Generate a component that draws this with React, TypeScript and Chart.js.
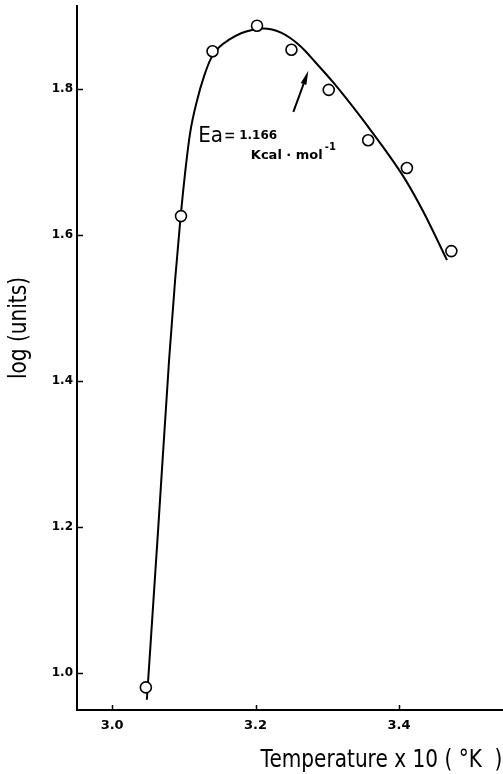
import React, { useEffect, useRef } from "react";
import { Chart, registerables } from "chart.js";

Chart.register(...registerables);

// Axis ticks
const X_TICKS = [3.0, 3.2, 3.4];
const Y_TICKS = [1.0, 1.2, 1.4, 1.6, 1.8];

// Measured points: temperature (x10) vs log(units)
const TEMP_OBS = [3.047, 3.096, 3.140, 3.202, 3.250, 3.302, 3.357, 3.411, 3.473];
const LOG_OBS = [0.980, 1.626, 1.852, 1.887, 1.854, 1.799, 1.730, 1.692, 1.578];

// Hand-fitted curve through the measurements
const TEMP_FIT = [
  3.0484, 3.0641, 3.0794, 3.0878, 3.0948, 3.1017, 3.1087, 3.1185, 3.1282, 3.1380,
  3.1491, 3.1631, 3.1798, 3.1951, 3.2105, 3.2230, 3.2355, 3.2467, 3.2578, 3.2690,
  3.2815, 3.3080, 3.3317, 3.3568, 3.3819, 3.4084, 3.4334, 3.4669,
];
const LOG_FIT = [
  0.9630, 1.1959, 1.4288, 1.5384, 1.6178, 1.6849, 1.7397, 1.7849, 1.8178, 1.8425,
  1.8575, 1.8678, 1.8767, 1.8812, 1.8832, 1.8818, 1.8774, 1.8712, 1.8630, 1.8527,
  1.8390, 1.8096, 1.7808, 1.7486, 1.7151, 1.6767, 1.6329, 1.5657,
];

// Annotation: arrow and activation-energy label (data units)
const ARROW_FROM = [3.2527, 1.7689];
const ARROW_TO = [3.2736, 1.8251];
const LABEL_AT = [3.1199, 1.7278];

const X_RANGE = [2.951, 3.545];
const Y_RANGE = [0.949, 1.914];

const PLAIN = "'DejaVu Sans', sans-serif";
const BOLD = "'DejaVu Sans', sans-serif";

// Draw text squeezed horizontally (narrow lettering)
function narrowText(ctx: any, text: string, x: number, y: number, size: number, squeeze: number, align: "left" | "center") {
  ctx.save();
  ctx.font = `${size}px ${PLAIN}`;
  ctx.textAlign = "left";
  const w = ctx.measureText(text).width * squeeze;
  const startX = align === "center" ? x - w / 2 : x;
  ctx.translate(startX, y);
  ctx.scale(squeeze, 1);
  ctx.fillText(text, 0, 0);
  ctx.restore();
  return w;
}

const decorations = {
  id: "decorations",
  afterDatasetsDraw(chart: any) {
    const { ctx, scales, chartArea } = chart;
    const xs = scales.x;
    const ys = scales.y;
    ctx.save();
    ctx.strokeStyle = "#000";
    ctx.fillStyle = "#000";

    // inward tick marks
    ctx.lineWidth = 1.5;
    ctx.beginPath();
    X_TICKS.forEach((v) => {
      const px = Math.round(xs.getPixelForValue(v)) + 0.5;
      ctx.moveTo(px, chartArea.bottom);
      ctx.lineTo(px, chartArea.bottom - 5);
    });
    Y_TICKS.forEach((v) => {
      const py = Math.round(ys.getPixelForValue(v)) + 0.5;
      ctx.moveTo(chartArea.left, py);
      ctx.lineTo(chartArea.left + 6, py);
    });
    ctx.stroke();

    // arrow
    const x0 = xs.getPixelForValue(ARROW_FROM[0]);
    const y0 = ys.getPixelForValue(ARROW_FROM[1]);
    const x1 = xs.getPixelForValue(ARROW_TO[0]);
    const y1 = ys.getPixelForValue(ARROW_TO[1]);
    const ang = Math.atan2(y1 - y0, x1 - x0);
    const headLen = 14;
    const headHalf = 3;
    const bx = x1 - headLen * Math.cos(ang);
    const by = y1 - headLen * Math.sin(ang);
    ctx.lineWidth = 2;
    ctx.beginPath();
    ctx.moveTo(x0, y0);
    ctx.lineTo(bx, by);
    ctx.stroke();
    ctx.beginPath();
    ctx.moveTo(x1, y1);
    ctx.lineTo(bx + headHalf * Math.sin(ang), by - headHalf * Math.cos(ang));
    ctx.lineTo(bx - headHalf * Math.sin(ang), by + headHalf * Math.cos(ang));
    ctx.closePath();
    ctx.fill();

    // Ea label
    const lx = xs.getPixelForValue(LABEL_AT[0]);
    const ly = ys.getPixelForValue(LABEL_AT[1]);
    ctx.textBaseline = "alphabetic";
    ctx.textAlign = "left";
    const eaW = narrowText(ctx, "Ea", lx, ly, 21, 0.95, "left");
    narrowText(ctx, "=", lx + eaW + 1, ly - 1, 17, 0.8, "left");
    ctx.font = `bold 12px ${BOLD}`;
    ctx.fillText("1.166", lx + 41, ly - 2.4);
    ctx.font = `bold 13px ${BOLD}`;
    const kx = lx + 52.7;
    ctx.fillText("Kcal · mol", kx, ly + 17.3);
    const kw = ctx.measureText("Kcal · mol").width;
    ctx.font = `bold 10px ${BOLD}`;
    ctx.fillText("-1", kx + kw + 2, ly + 7.8);

    // axis titles
    narrowText(ctx, "Temperature x 10 ( °K  )", 381.5, 767, 24.5, 0.82, "center");
    ctx.save();
    ctx.translate(26, 328);
    ctx.rotate(-Math.PI / 2);
    narrowText(ctx, "log (units)", 0, 0, 24.5, 0.82, "center");
    ctx.restore();

    ctx.restore();
  },
};

export default function App() {
  const ref = useRef<HTMLCanvasElement | null>(null);

  useEffect(() => {
    if (!ref.current) return;
    const chart = new Chart(ref.current, {
      type: "line",
      data: {
        datasets: [
          {
            type: "scatter",
            label: "observed",
            data: TEMP_OBS.map((t, i) => ({ x: t, y: LOG_OBS[i] })),
            showLine: false,
            pointRadius: 5.5,
            pointBorderWidth: 1.6,
            pointBackgroundColor: "#fff",
            pointBorderColor: "#000",
            order: 0,
          } as any,
          {
            type: "line",
            label: "fit",
            data: TEMP_FIT.map((t, i) => ({ x: t, y: LOG_FIT[i] })),
            borderColor: "#000",
            borderWidth: 2,
            pointRadius: 0,
            fill: false,
            cubicInterpolationMode: "monotone",
            order: 1,
          },
        ],
      },
      options: {
        animation: false,
        responsive: true,
        maintainAspectRatio: false,
        layout: { autoPadding: false, padding: { top: 6, right: 0, left: 0, bottom: 0 } },
        plugins: {
          legend: { display: false },
          tooltip: { enabled: false },
          title: { display: false },
        },
        scales: {
          x: {
            type: "linear",
            min: X_RANGE[0],
            max: X_RANGE[1],
            afterFit: (s: any) => {
              s.height = 64;
              s.paddingLeft = 0;
              s.paddingRight = 0;
            },
            afterBuildTicks: (s: any) => {
              s.ticks = X_TICKS.map((v) => ({ value: v }));
            },
            grid: { display: false, drawTicks: false, tickLength: 0 },
            border: { display: true, color: "#000", width: 2 },
            ticks: {
              color: "#000",
              padding: 8,
              maxRotation: 0,
              font: { family: BOLD, weight: "bold", size: 13 },
              callback: (v: any) => Number(v).toFixed(1),
            },
          },
          y: {
            type: "linear",
            min: Y_RANGE[0],
            max: Y_RANGE[1],
            afterFit: (s: any) => {
              s.width = 77;
              s.paddingTop = 0;
              s.paddingBottom = 0;
            },
            afterBuildTicks: (s: any) => {
              s.ticks = Y_TICKS.map((v) => ({ value: v }));
            },
            grid: { display: false, drawTicks: false, tickLength: 0 },
            border: { display: true, color: "#000", width: 2 },
            ticks: {
              color: "#000",
              padding: 4,
              font: { family: BOLD, weight: "bold", size: 12 },
              callback: (v: any) => Number(v).toFixed(1),
            },
          },
        },
      },
      plugins: [decorations],
    });
    return () => chart.destroy();
  }, []);

  return (
    <div style={{ position: "absolute", left: 0, top: 0, width: 503, height: 774, background: "#fff" }}>
      <canvas ref={ref} />
    </div>
  );
}
